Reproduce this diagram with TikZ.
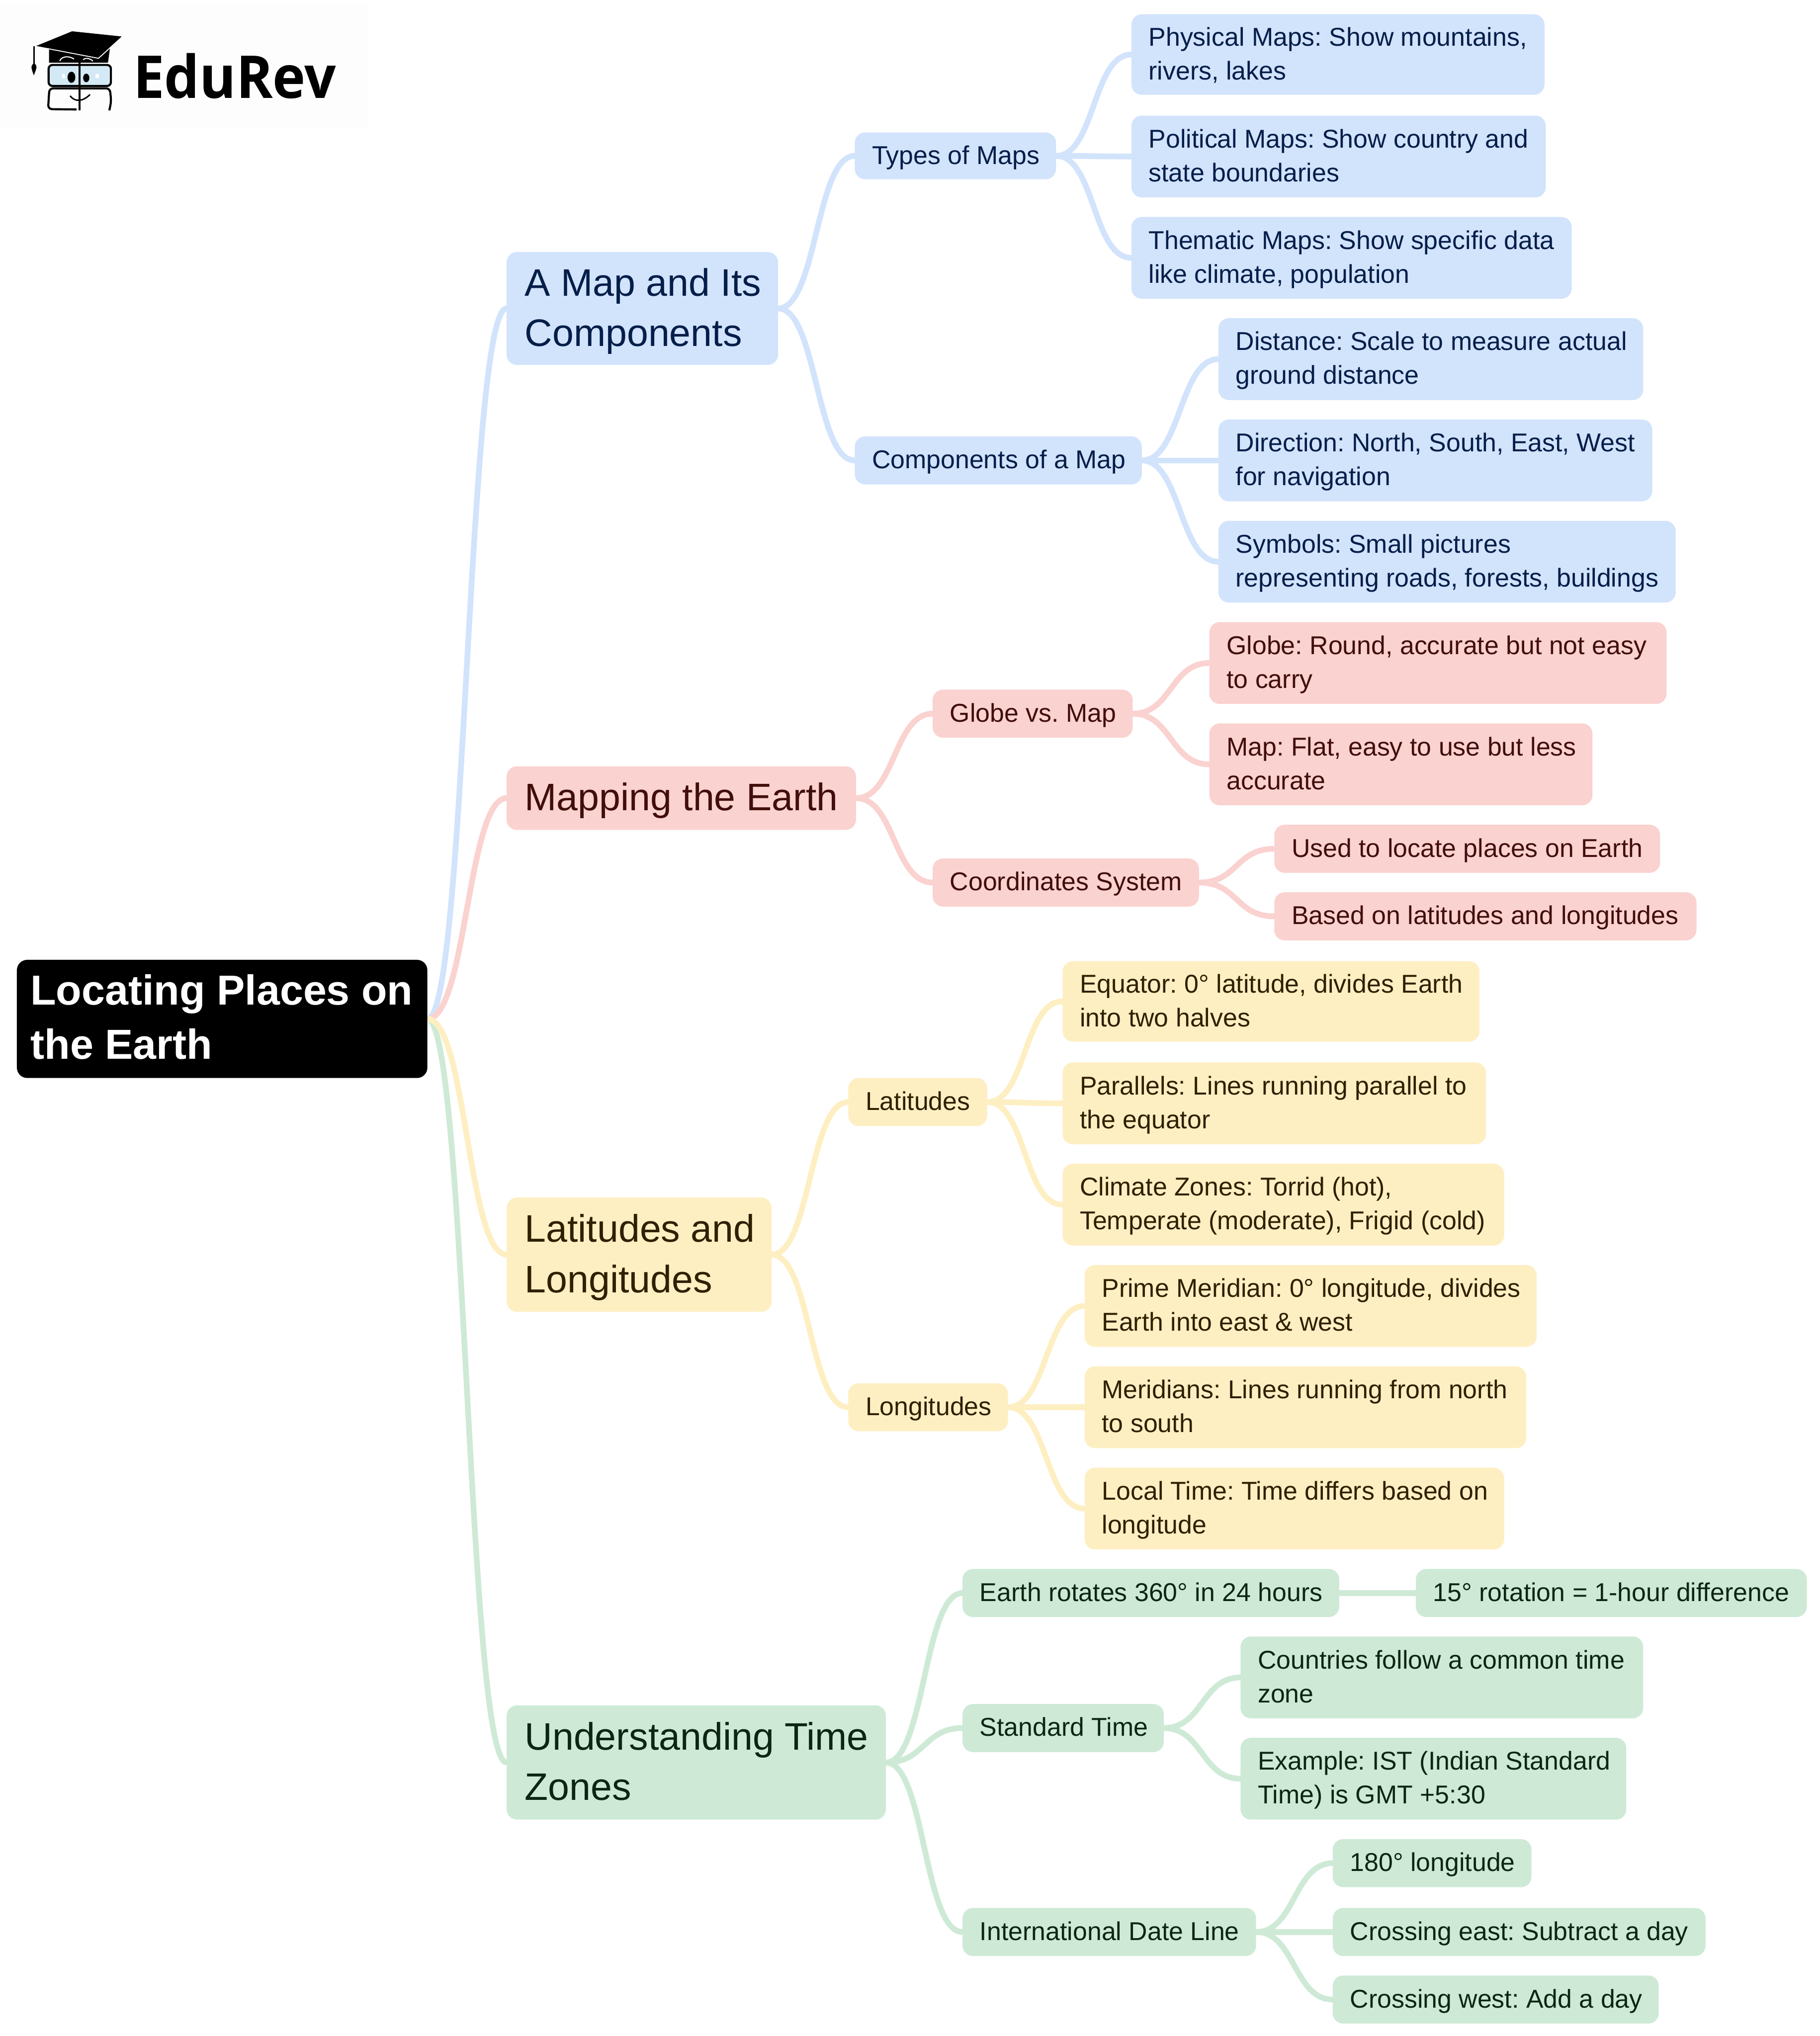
\documentclass[tikz,border=0pt]{standalone}
\usepackage{fontspec}
\setmainfont{Liberation Sans}
\newfontfamily\logofont[FakeStretch=0.94]{Open Sans}
\frenchspacing
\usetikzlibrary{backgrounds}
\definecolor{bluefill}{HTML}{D2E3FC}\definecolor{bluetext}{HTML}{041E49}
\definecolor{redfill}{HTML}{FAD2CF}\definecolor{redtext}{HTML}{410E0B}
\definecolor{yelfill}{HTML}{FEEFC3}\definecolor{yeltext}{HTML}{2F2000}
\definecolor{grnfill}{HTML}{CEEAD6}\definecolor{grntext}{HTML}{0D2613}
\definecolor{lens}{HTML}{D3EAF6}\definecolor{logobg}{HTML}{FDFDFD}
\tikzset{
  x=1pt,y=-1pt,
  boxbase/.style={inner xsep=0pt,inner ysep=0pt,outer sep=0pt,rounded corners=8pt,anchor=center},
  rootbox/.style={boxbase,fill=black,text=white,font=\fontsize{32.3}{41.8}\selectfont\bfseries},
  bluebox/.style={boxbase,fill=bluefill,text=bluetext},
  redbox/.style={boxbase,fill=redfill,text=redtext},
  yelbox/.style={boxbase,fill=yelfill,text=yeltext},
  grnbox/.style={boxbase,fill=grnfill,text=grntext},
  big/.style={font=\fontsize{29.5}{38.8}\selectfont},
  small/.style={font=\fontsize{19.85}{26}\selectfont},
  linkline/.style={line width=4.4pt,line cap=round},
  bluelink/.style={linkline,draw=bluefill},
  redlink/.style={linkline,draw=redfill},
  yellink/.style={linkline,draw=yelfill},
  grnlink/.style={linkline,draw=grnfill},
}
% left-aligned text block of width #1, left padding #2, strut height #3 and depth #4
\newcommand\txtblock[5]{\parbox{#1pt}{\leftskip=#2pt\relax\rightskip=0pt plus 1fil\relax\parindent=0pt\relax
  \leavevmode\vrule height#3pt width0pt #5\vrule depth#4pt width0pt\relax}}
% #1 name, #2 l, #3 t, #4 r, #5 b, #6 style, #7 text
\newcommand\leafbx[7]{%
  \pgfmathsetmacro\bw{#4-#2}\pgfmathsetmacro\bh{#5-#3}%
  \node[#6,small,minimum height=\bh pt] (#1) at ({(#2+#4)/2},{(#3+#5)/2})
   {\txtblock{\bw}{13.3}{19.3}{6.7}{#7}};}
\newcommand\bigbx[7]{%
  \pgfmathsetmacro\bw{#4-#2}\pgfmathsetmacro\bh{#5-#3}%
  \node[#6,big,minimum height=\bh pt] (#1) at ({(#2+#4)/2},{(#3+#5)/2})
   {\txtblock{\bw}{14}{29}{9.6}{#7}};}
\newcommand\lnk[3]{\draw[#3] (#1.east) .. controls +(30,0) and +(-30,0) .. (#2.west);}
\begin{document}
\begin{tikzpicture}
\useasboundingbox (0,0) rectangle (1401,1567.6);
% logo
\fill[logobg] (0,3) rectangle (283,98);
\fill (37.7,37.6) -- (84.6,37.6) -- (83.1,48.3) -- (37.7,48.3) -- cycle;
\fill[black,draw=white,line width=.7pt] (55.4,23.7) -- (94.6,27.8) -- (75.8,44.9) -- (26.5,35.5) -- cycle;
\draw[line width=1pt] (26.2,35.5) -- (26.2,49);
\fill (26.2,48.5) .. controls (23.6,51) .. (26,58) .. controls (28.8,51) .. (26.2,48.5) -- cycle;
\draw[white,line width=.8pt] (46,47) .. controls (47,43.5) and (53,42.5) .. (57,45.5);
\draw[white,line width=.8pt] (64,46) .. controls (65,44.5) and (69,44.5) .. (71.5,47);
\draw[line width=1.6pt,fill=lens,rounded corners=3pt] (37.4,50) rectangle (85.4,66.2);
\draw[line width=1.6pt,rounded corners=3pt] (61,68) -- (38,68) -- (37,84) -- (59,84.3);
\draw[line width=1.6pt,rounded corners=3pt] (61,68) -- (84.6,68) -- (85.6,78) -- (84.2,85);
\fill[white] (47.8,57.2) rectangle (50,60.2);\fill[white] (73.5,57.2) rectangle (76,60.2);
\draw[line width=1.5pt] (61.2,48) -- (61.2,85);
\fill (55,59.5) ellipse [x radius=3,y radius=4.3];
\fill (66.4,60) ellipse [x radius=2.4,y radius=3.3];
\draw[line width=1.1pt] (54,73.8) .. controls (58,79) and (64,78) .. (69.3,72.8);
\node[anchor=base west,inner sep=0pt,font=\logofont\bfseries\fontsize{45.5}{50}\selectfont] (logotext) at (102.5,75.7) {EduRev};
% nodes
\node[rootbox,minimum height=91pt] (root) at (171,784.5)
  {\txtblock{316}{10.5}{31}{11}{Locating Places on\\the Earth}};
\bigbx{mapc}{390}{194}{599}{281}{bluebox}{A Map and Its\\Components}
\bigbx{mapping}{390}{590}{659}{639}{redbox}{Mapping the Earth}
\bigbx{latlon}{390}{922}{594}{1010}{yelbox}{Latitudes and\\Longitudes}
\bigbx{tz}{390}{1313}{682}{1401}{grnbox}{Understanding Time\\Zones}
\leafbx{types}{658}{102}{813}{138}{bluebox}{Types of Maps}
\leafbx{comps}{658}{336}{879}{373}{bluebox}{Components of a Map}
\leafbx{gvm}{718}{531}{872}{568}{redbox}{Globe vs. Map}
\leafbx{coord}{718}{661}{923}{698}{redbox}{Coordinates System}
\leafbx{lats}{653}{830}{760}{867}{yelbox}{Latitudes}
\leafbx{longs}{653}{1065}{776}{1102}{yelbox}{Longitudes}
\leafbx{rot}{741}{1208}{1031}{1245}{grnbox}{Earth rotates 360° in 24 hours}
\leafbx{std}{741}{1312}{896}{1349}{grnbox}{Standard Time}
\leafbx{idl}{741}{1469}{967}{1506}{grnbox}{International Date Line}
\leafbx{phys}{871}{11}{1189}{73}{bluebox}{Physical Maps: Show mountains,\\rivers, lakes}
\leafbx{polit}{871}{89}{1190}{152}{bluebox}{Political Maps: Show country and\\state boundaries}
\leafbx{them}{871}{167}{1210}{230}{bluebox}{Thematic Maps: Show specific data\\like climate, population}
\leafbx{dist}{938}{245}{1265}{308}{bluebox}{Distance: Scale to measure actual\\ground distance}
\leafbx{dirn}{938}{323}{1272}{386}{bluebox}{Direction: North, South, East, West\\for navigation}
\leafbx{symb}{938}{401}{1290}{464}{bluebox}{Symbols: Small pictures\\representing roads, forests, buildings}
\leafbx{globe}{931}{479}{1283}{542}{redbox}{Globe: Round, accurate but not easy\\to carry}
\leafbx{flat}{931}{557}{1226}{620}{redbox}{Map: Flat, easy to use but less\\accurate}
\leafbx{used}{981}{635}{1278}{672}{redbox}{Used to locate places on Earth}
\leafbx{based}{981}{687}{1306}{724}{redbox}{Based on latitudes and longitudes}
\leafbx{equa}{818}{740}{1139}{802}{yelbox}{Equator: 0° latitude, divides Earth\\into two halves}
\leafbx{para}{818}{818}{1144}{881}{yelbox}{Parallels: Lines running parallel to\\the equator}
\leafbx{clim}{818}{896}{1158}{959}{yelbox}{Climate Zones: Torrid (hot),\\Temperate (moderate), Frigid (cold)}
\leafbx{prime}{835}{974}{1183}{1037}{yelbox}{Prime Meridian: 0° longitude, divides\\Earth into east \& west}
\leafbx{merid}{835}{1052}{1175}{1115}{yelbox}{Meridians: Lines running from north\\to south}
\leafbx{local}{835}{1130}{1158}{1193}{yelbox}{Local Time: Time differs based on\\longitude}
\leafbx{fifteen}{1090}{1208}{1391}{1245}{grnbox}{15° rotation = 1-hour difference}
\leafbx{ctry}{955}{1260}{1265}{1323}{grnbox}{Countries follow a common time\\zone}
\leafbx{ist}{955}{1338}{1252}{1401}{grnbox}{Example: IST (Indian Standard\\Time) is GMT +5:30}
\leafbx{lon}{1026}{1416}{1179}{1453}{grnbox}{180° longitude}
\leafbx{east}{1026}{1469}{1313}{1506}{grnbox}{Crossing east: Subtract a day}
\leafbx{west}{1026}{1521}{1277}{1558}{grnbox}{Crossing west: Add a day}
% connectors
\begin{scope}[on background layer]
\lnk{root}{mapc}{bluelink}\lnk{root}{mapping}{redlink}\lnk{root}{tz}{grnlink}\lnk{root}{latlon}{yellink}
\lnk{mapc}{types}{bluelink}\lnk{mapc}{comps}{bluelink}
\lnk{types}{phys}{bluelink}\lnk{types}{polit}{bluelink}\lnk{types}{them}{bluelink}
\lnk{comps}{dist}{bluelink}\lnk{comps}{dirn}{bluelink}\lnk{comps}{symb}{bluelink}
\lnk{mapping}{gvm}{redlink}\lnk{mapping}{coord}{redlink}
\lnk{gvm}{globe}{redlink}\lnk{gvm}{flat}{redlink}
\lnk{coord}{used}{redlink}\lnk{coord}{based}{redlink}
\lnk{latlon}{lats}{yellink}\lnk{latlon}{longs}{yellink}
\lnk{lats}{equa}{yellink}\lnk{lats}{para}{yellink}\lnk{lats}{clim}{yellink}
\lnk{longs}{prime}{yellink}\lnk{longs}{merid}{yellink}\lnk{longs}{local}{yellink}
\lnk{tz}{rot}{grnlink}\lnk{tz}{std}{grnlink}\lnk{tz}{idl}{grnlink}
\lnk{rot}{fifteen}{grnlink}
\lnk{std}{ctry}{grnlink}\lnk{std}{ist}{grnlink}
\lnk{idl}{lon}{grnlink}\lnk{idl}{east}{grnlink}\lnk{idl}{west}{grnlink}
\end{scope}
\end{tikzpicture}
\end{document}
